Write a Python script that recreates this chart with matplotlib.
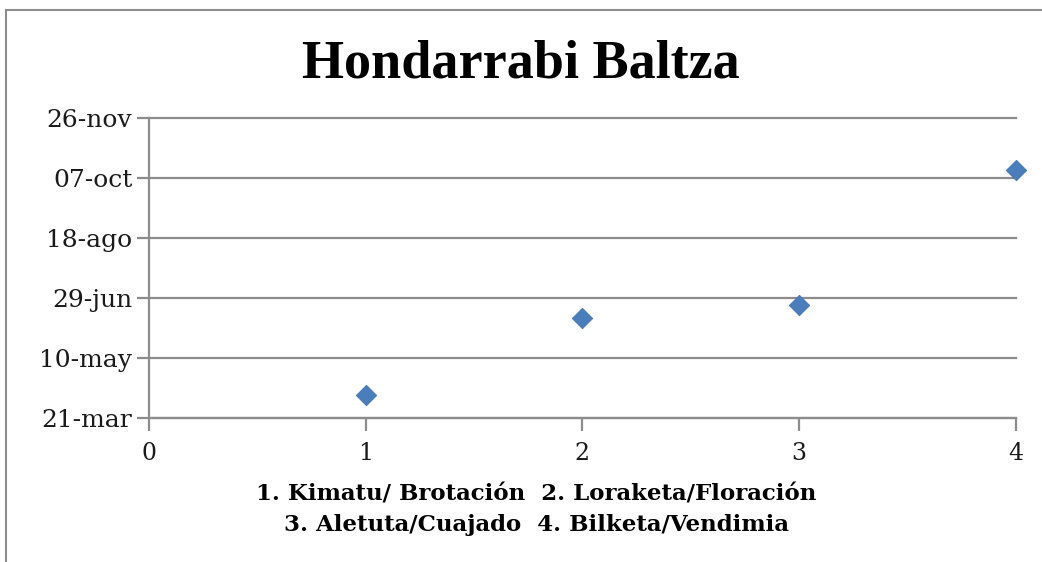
import numpy as np
import pandas as pd
import matplotlib
matplotlib.use('Agg')
import matplotlib.pyplot as plt
import matplotlib.dates as mdates
from matplotlib.lines import Line2D

# datos
fase = [1, 2, 3, 4]
fecha = pd.to_datetime(['2012-04-09', '2012-06-12', '2012-06-23', '2012-10-14'])
ytick_fechas = pd.to_datetime(['2012-03-21', '2012-05-10', '2012-06-29',
                               '2012-08-18', '2012-10-07', '2012-11-26'])
ytick_labels = ['21-mar', '10-may', '29-jun', '18-ago', '07-oct', '26-nov']
xticks = [0, 1, 2, 3, 4]
leyenda = '1. Kimatu/ Brotación  2. Loraketa/Floración\n3. Aletuta/Cuajado  4. Bilketa/Vendimia'

fig = plt.figure(figsize=(10.42, 5.62), dpi=100)
ax = fig.add_axes([0.143, 0.256, 0.832, 0.534])

ax.scatter(fase, mdates.date2num(fecha), marker='D', s=110, color='#4a7ebb',
           edgecolors='#3f71b0', linewidths=0.5, zorder=3, clip_on=False)

ax.set_xlim(0, 4)
ax.set_ylim(mdates.date2num(ytick_fechas[0]), mdates.date2num(ytick_fechas[-1]))
ax.set_xticks(xticks)
ax.set_yticks(mdates.date2num(ytick_fechas))
ax.set_yticklabels(ytick_labels)

ax.grid(axis='y', color='#8c8c8c', linewidth=1.6)
for gl in ax.yaxis.get_gridlines():
    gl.set_clip_on(False)
ax.set_axisbelow(True)
for s in ['top', 'right']:
    ax.spines[s].set_visible(False)
for s in ['left', 'bottom']:
    ax.spines[s].set_color('#8c8c8c')
    ax.spines[s].set_linewidth(1.6)
ax.tick_params(axis='both', color='#8c8c8c', width=1.6, length=9, labelsize=17)
ax.tick_params(axis='y', pad=3, labelsize=18)
ax.tick_params(axis='x', pad=8)
for lab in ax.get_xticklabels() + ax.get_yticklabels():
    lab.set_fontfamily('DejaVu Serif')
    lab.set_color('#1a1a1a')

fig.text(0.5, 0.886, 'Hondarrabi Baltza', ha='center', va='center',
         fontsize=39, fontweight='bold', family='Liberation Serif')
fig.text(0.515, 0.093, leyenda, ha='center', va='center', fontsize=16.5,
         fontweight='bold', family='DejaVu Serif', linespacing=1.5)

# marco exterior (solo arriba e izquierda)
fig.add_artist(Line2D([0.006, 1.0], [0.982, 0.982], color='#8c8c8c', linewidth=1.5))
fig.add_artist(Line2D([0.006, 0.006], [0.0, 0.982], color='#8c8c8c', linewidth=1.5))

fig.savefig('out.png', dpi=100)
